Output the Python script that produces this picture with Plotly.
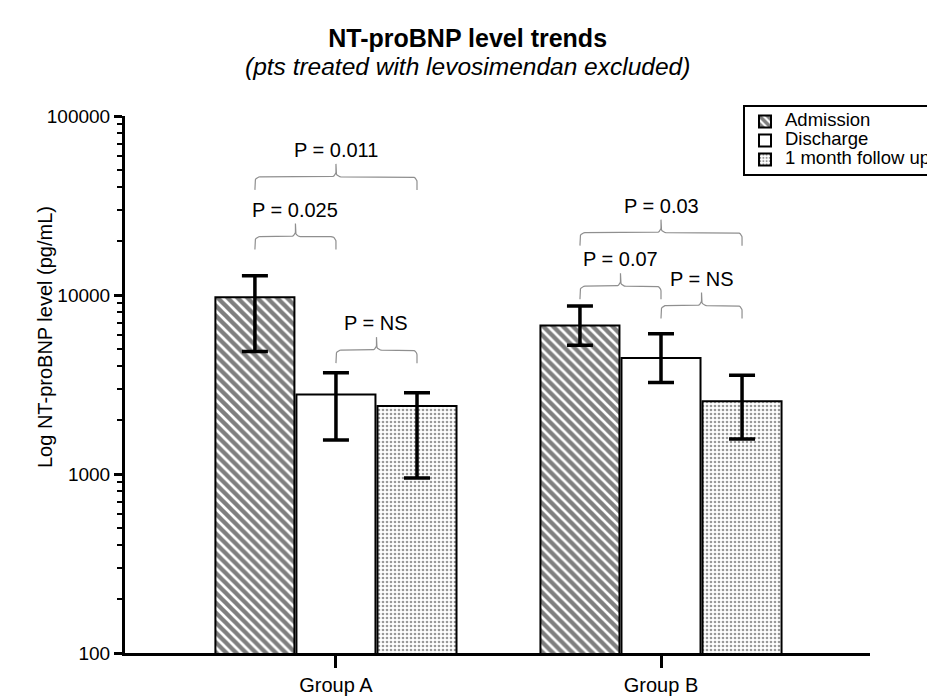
import numpy as np
import plotly.graph_objects as go

# ---------------- data ----------------
groups = ["Group A", "Group B"]
series_names = ["Admission", "Discharge", "1 month follow up"]
admission = [9730, 6760]
discharge = [2780, 4440]
follow_up = [2400, 2550]
admission_hi = [12790, 8690]
admission_lo = [4840, 5240]
discharge_hi = [3680, 6080]
discharge_lo = [1550, 3245]
follow_up_hi = [2840, 3565]
follow_up_lo = [950, 1570]

# brackets: (group index, series from, series to, level pg/mL, label)
bracket_group = [0, 0, 0, 1, 1, 1]
bracket_from = [0, 0, 1, 0, 0, 1]
bracket_to = [1, 2, 2, 1, 2, 2]
bracket_level = [21200, 45700, 4920, 11200, 22300, 8730]
bracket_label = ["P = 0.025", "P = 0.011", "P = NS", "P = 0.07", "P = 0.03", "P = NS"]

y_tick_vals = [100, 1000, 10000, 100000]
y_tick_text = ["100", "1000", "10000", "100000"]

title_text = "NT-proBNP level trends"
subtitle_text = "(pts treated with levosimendan excluded)"
y_title_text = "Log NT-proBNP level (pg/mL)"

# ---------------- layout constants ----------------
W, H = 935, 698
ML, MR, MT, MB = 117, 73, 108, 53
XR = [-0.649, 1.643]
YR = [2, 5]
BARGAP = 0.252
BARGROUPGAP = 0.025
FONT = "Liberation Sans, Arial, sans-serif"

plot_w = W - ML - MR
plot_h = H - MT - MB
pxx = plot_w / (XR[1] - XR[0])   # px per x unit
pxy = plot_h / (YR[1] - YR[0])   # px per decade


def py(ypx):
    """container pixel row -> paper y"""
    return (H - MB - ypx) / plot_h


def px(xpx):
    return (xpx - ML) / plot_w


vals = [admission, discharge, follow_up]
his = [admission_hi, discharge_hi, follow_up_hi]
los = [admission_lo, discharge_lo, follow_up_lo]
patterns = [
    dict(shape="\\", fgcolor="black", bgcolor="white", size=7, solidity=0.62),
    dict(shape="", fgcolor="black", bgcolor="white"),
    dict(shape=".", fgcolor="#333333", bgcolor="white", size=4, solidity=0.35),
]

fig = go.Figure()
xpos = list(range(len(groups)))
for k in range(3):
    v = np.array(vals[k], dtype=float)
    fig.add_trace(go.Bar(
        x=xpos, y=v,
        name="<span style='font-size:18.5px'>" + series_names[k] + "</span>",
        marker=dict(color="white", pattern=patterns[k],
                    line=dict(color="black", width=2)),
        error_y=dict(type="data", symmetric=False,
                     array=np.array(his[k]) - v,
                     arrayminus=v - np.array(los[k]),
                     color="black", thickness=3.5, width=13),
    ))

slot = (1 - BARGAP) / 3.0


def bar_center(g, k):
    return g + (k - 1) * slot


D, P, r = 13.0, 13.0, 5.0
for g, a, b, lev, lab in zip(bracket_group, bracket_from, bracket_to, bracket_level, bracket_label):
    xl = bar_center(g, a) * pxx
    xr = bar_center(g, b) * pxx
    xc = (xl + xr) / 2
    pts = [(xl, -D), (xl, -r)]
    th = np.linspace(np.pi, np.pi / 2, 8)
    pts += [(xl + r + r * np.cos(t), -r + r * np.sin(t)) for t in th]
    pts += [(xc - r, 0)]
    th = np.linspace(-np.pi / 2, 0, 8)
    pts += [(xc - r + r * np.cos(t), r + r * np.sin(t)) for t in th]
    pts += [(xc, P), (xc, r)]
    th = np.linspace(np.pi, 3 * np.pi / 2, 8)
    pts += [(xc + r + r * np.cos(t), r + r * np.sin(t)) for t in th]
    pts += [(xr - r, 0)]
    th = np.linspace(np.pi / 2, 0, 8)
    pts += [(xr - r + r * np.cos(t), -r + r * np.sin(t)) for t in th]
    pts += [(xr, -D)]
    bx = [p[0] / pxx for p in pts]
    by = [10 ** (np.log10(lev) + p[1] / pxy) for p in pts]
    fig.add_trace(go.Scatter(x=bx, y=by, mode="lines", showlegend=False,
                             hoverinfo="skip",
                             line=dict(color="#8f8f8f", width=1.2)))
    fig.add_annotation(x=xc / pxx, y=np.log10(lev) + (P + 1) / pxy, xref="x", yref="y",
                       text=lab, showarrow=False, yanchor="bottom",
                       font=dict(family=FONT, size=20, color="black"))

# title + subtitle as one two-line text (line spacing set by base font size)
fig.add_annotation(x=px(459), xref="paper", y=py(44), yref="paper",
                   text=("<span style='font-size:25px'><b>" + title_text + "</b></span><br>"
                         "<span style='font-size:24.5px'><i>" + subtitle_text + "</i></span>"),
                   showarrow=False, align="center",
                   xanchor="center", yanchor="middle",
                   font=dict(family=FONT, size=21.5, color="black"))
fig.add_annotation(x=px(37), xref="paper", y=py(329), yref="paper",
                   text=y_title_text, showarrow=False, textangle=-90,
                   xanchor="center", yanchor="middle",
                   font=dict(family=FONT, size=20, color="black"))

minor_vals = [m * 10 ** e for e in range(2, 5) for m in range(2, 10)]

fig.update_layout(
    width=W, height=H,
    margin=dict(l=ML, r=MR, t=MT, b=MB, autoexpand=False),
    paper_bgcolor="white", plot_bgcolor="white",
    barmode="group", bargap=BARGAP, bargroupgap=BARGROUPGAP,
    font=dict(family=FONT, size=20, color="black"),
    showlegend=True,
    legend=dict(x=px(735), y=py(97),
                xanchor="left", yanchor="top",
                bordercolor="black", borderwidth=2, bgcolor="white",
                font=dict(family=FONT, size=12, color="black"),
                tracegroupgap=0, itemwidth=30),
    xaxis=dict(range=XR, tickvals=xpos, ticktext=groups,
               showline=True, linewidth=3, linecolor="black",
               ticks="outside", ticklen=12, tickwidth=3, tickcolor="black",
               ticklabelstandoff=0,
               showgrid=False, zeroline=False,
               tickfont=dict(family=FONT, size=20)),
    yaxis=dict(type="log", range=YR, tickvals=y_tick_vals, ticktext=y_tick_text,
               showline=True, linewidth=3, linecolor="black",
               ticks="outside", ticklen=8, tickwidth=3, tickcolor="black",
               showgrid=False, zeroline=False,
               tickfont=dict(family=FONT, size=19),
               minor=dict(tickvals=minor_vals, ticks="outside", ticklen=5,
                          tickwidth=2, tickcolor="black", showgrid=False)),
)

fig.write_html("out.html")
